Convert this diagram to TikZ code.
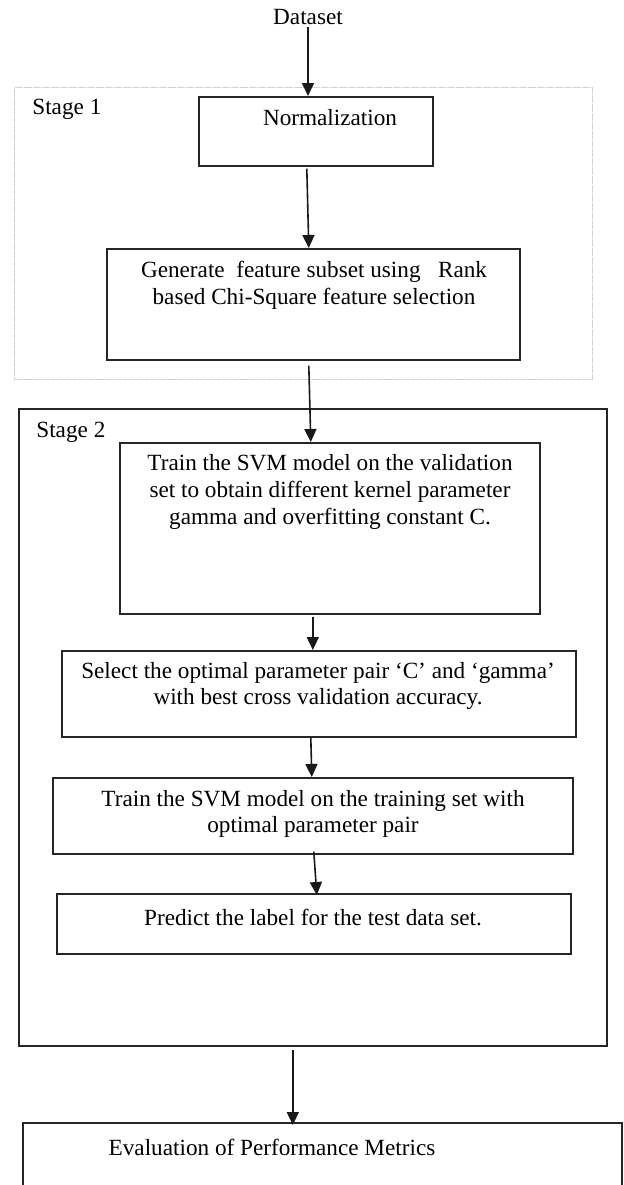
\documentclass[tikz,border=0pt]{standalone}
\usepackage{fontspec}
\setmainfont{Liberation Serif}
\usetikzlibrary{arrows.meta}

\tikzset{
  box/.style={rectangle, draw=black!85, line width=0.8pt, anchor=north west, inner sep=0pt},
  stagebox/.style={rectangle, anchor=north west, inner sep=0pt},
  txt/.style={align=center, inner sep=0pt, font=\fontsize{11.6pt}{13.3pt}\selectfont},
  arr/.style={-{Triangle[length=6.5pt,width=6pt]}, line width=0.8pt, black!90}
}

\begin{document}
\begin{tikzpicture}[x=0.5pt, y=-0.5pt]
      \useasboundingbox (0,0) rectangle (623,1185);
      \clip (0,0) rectangle (623,1185);

      % frames of the two stages
      \node[stagebox, draw=gray!35, line width=0.6pt, dash pattern=on 4pt off 0.5pt, minimum width=289pt, minimum height=146pt](S1) at (14,87) {};
      \node[stagebox, draw=black!85, line width=0.8pt, minimum width=294pt, minimum height=318.5pt](S2) at (18,408) {};
      \node[txt, anchor=west](S1lab) at (32,109) {Stage 1};
      \node[txt, anchor=west](S2lab) at (36,432) {Stage 2};

      \node[txt](data) at (308,17) {Dataset};

      % stage 1
      \node[box, minimum width=117pt, minimum height=34.5pt](norm) at (198,96) {};
      \node[txt](normtxt) at (330,118) {Normalization};
      \node[box, minimum width=206.5pt, minimum height=55.5pt](gen) at (106,248) {};
      \node[txt](gentxt) at (314,285) {Generate\ \ feature subset using\ \ \ Rank\\based Chi-Square feature selection};

      % stage 2
      \node[box, minimum width=210pt, minimum height=85.5pt](svm) at (119,442) {};
      \node[txt](svmtxt) at (330,492) {Train the SVM model on the validation\\set to obtain different kernel parameter\\gamma and overfitting constant C.};
      \node[box, minimum width=257pt, minimum height=43pt](sel) at (61,650) {};
      \node[txt](seltxt) at (318,686) {Select the optimal parameter pair `C' and `gamma'\\with best cross validation accuracy.};
      \node[box, minimum width=260pt, minimum height=38pt](trn) at (52,777) {};
      \node[txt](trntxt) at (313,814) {Train the SVM model on the training set with\\optimal parameter pair};
      \node[box, minimum width=257pt, minimum height=30pt](pred) at (56,893) {};
      \node[txt](predtxt) at (313,917) {Predict the label for the test data set.};

      % result
      \node[box, minimum width=299.5pt, minimum height=50pt](eval) at (22,1122) {};
      \node[txt](evaltxt) at (272,1147) {Evaluation of Performance Metrics};

      \draw[arr] ([yshift=-1pt]data.south) -- (data.south |- norm.north);
      \draw[arr] ([xshift=-4.5pt, yshift=-1pt]norm.south) -- ([xshift=-2.25pt]gen.north);
      \draw[arr] ([xshift=-2.25pt, yshift=-2.5pt]gen.south) -- ([xshift=-9.5pt]svm.north);
      \draw[arr] ([xshift=-8.5pt, yshift=-1pt]svm.south) -- ([xshift=-3pt]sel.north);
      \draw[arr] ([xshift=-4pt]sel.south) -- ([xshift=-0.5pt]trn.north);
      \draw[arr] ([xshift=0.5pt, yshift=1.5pt]trn.south) -- ([xshift=1.5pt, yshift=-1pt]pred.north);
      \draw[arr] ([xshift=-10pt, yshift=-1.5pt]S2.south) -- ([xshift=-14.75pt, yshift=-1.5pt]eval.north);
    \end{tikzpicture}
\end{document}
